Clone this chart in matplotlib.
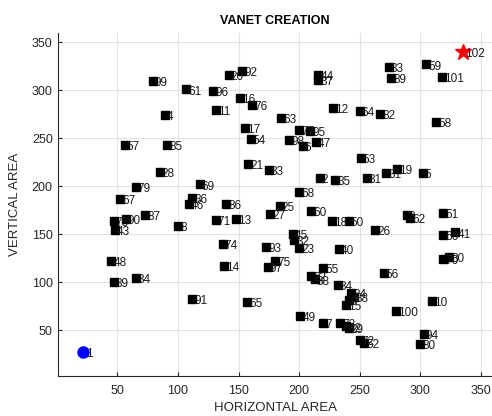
import matplotlib
matplotlib.use("Agg")
import matplotlib.pyplot as plt

plt.rcParams['font.family'] = ['Liberation Sans', 'DejaVu Sans']

# Node coordinates (horizontal, vertical) and their IDs
node_ids = [99, 4, 57, 85, 61, 92, 20, 96, 16, 76, 11, 63, 17, 54, 77, 95,
            98, 6, 47, 12, 64, 82, 58, 33, 89, 59, 101, 44, 37, 28, 79, 67,
            87, 90, 78, 43, 8, 21, 83, 2, 35, 69, 36, 46, 86, 71, 13, 68,
            25, 27, 60, 45, 32, 23, 74, 93, 14, 75, 97, 53, 81, 31, 19, 5,
            18, 50, 26, 3, 62, 51, 66, 41, 40, 70, 30, 48, 39, 34, 91, 65,
            49, 7, 22, 38, 55, 56, 84, 24, 88, 9, 15, 10, 100, 73, 42, 29,
            94, 80, 72, 52]
node_x = [79, 89, 56, 91, 107, 153, 142, 129, 151, 161, 131, 185, 155, 160, 200, 209,
          192, 203, 214, 228, 250, 267, 313, 274, 276, 305, 318, 216, 216, 85, 65, 52,
          73, 57, 47, 48, 100, 158, 175, 217, 230, 118, 112, 109, 140, 131, 148, 200,
          184, 176, 210, 195, 196, 200, 137, 173, 138, 180, 174, 251, 256, 272, 281, 302,
          227, 241, 263, 289, 292, 319, 319, 329, 233, 319, 324, 45, 47, 65, 112, 157,
          201, 220, 210, 213, 220, 270, 232, 243, 245, 241, 239, 310, 280, 234, 239, 241,
          303, 300, 250, 254]
node_y = [310, 274, 243, 243, 301, 320, 316, 299, 292, 285, 280, 271, 261, 249, 259, 258,
          248, 242, 246, 282, 279, 275, 267, 324, 313, 327, 314, 316, 311, 215, 199, 187,
          170, 166, 164, 155, 159, 223, 217, 209, 207, 202, 188, 182, 182, 165, 166, 194,
          180, 171, 174, 150, 144, 136, 140, 137, 117, 122, 116, 230, 209, 214, 218, 214,
          164, 164, 155, 170, 167, 172, 149, 152, 135, 124, 126, 122, 100, 105, 83, 80,
          65, 58, 107, 103, 115, 110, 97, 89, 85, 82, 76, 81, 70, 58, 54, 52,
          46, 36, 40, 37]

source_id, source_x, source_y = 1, 22, 27
dest_id, dest_x, dest_y = 102, 335, 340

fig = plt.figure(figsize=(4.92, 4.16), dpi=100)
ax = fig.add_axes([58.3 / 492, 40.3 / 416, (492 - 58.3) / 492, 342.4 / 416])

ax.plot(node_x, node_y, linestyle='none', marker='s', ms=5.8,
        color='black', zorder=3)
ax.plot([source_x], [source_y], linestyle='none', marker='o', ms=8,
        color='#0000ff', zorder=3)
ax.plot([dest_x], [dest_y], linestyle='none', marker='*', ms=12,
        color='#ff0000', zorder=3)

label_kw = dict(textcoords='offset points', xytext=(1.5, -1.5), fontsize=8.5,
                ha='left', va='center', color='#1a1a1a', zorder=4)
for nid, x, y in zip(node_ids, node_x, node_y):
    ax.annotate(str(nid), (x, y), **label_kw)
ax.annotate(str(source_id), (source_x, source_y), **label_kw)
ax.annotate(str(dest_id), (dest_x, dest_y), **label_kw)

ax.set_xlim(1.2, 359.3)
ax.set_ylim(2.7, 359.5)
ax.set_xticks([50, 100, 150, 200, 250, 300, 350])
ax.set_yticks([50, 100, 150, 200, 250, 300, 350])
ax.grid(True, color='#e3e3e3', linewidth=0.8)
ax.set_axisbelow(True)
for side in ('top', 'right'):
    ax.spines[side].set_visible(False)
for side in ('left', 'bottom'):
    ax.spines[side].set_color('#262626')
    ax.spines[side].set_linewidth(0.8)
ax.tick_params(direction='in', length=3, labelsize=9, colors='#262626',
               labelcolor='#262626')
ax.tick_params(axis='x', pad=7)
ax.tick_params(axis='y', pad=4)

ax.set_title('VANET CREATION', fontsize=9, fontweight='bold', pad=7)
ax.set_xlabel('HORIZONTAL AREA', fontsize=9.5, color='#262626', labelpad=3)
ax.set_ylabel('VERTICAL AREA', fontsize=9.5, color='#262626', labelpad=8)

fig.savefig('out.png', dpi=100)
